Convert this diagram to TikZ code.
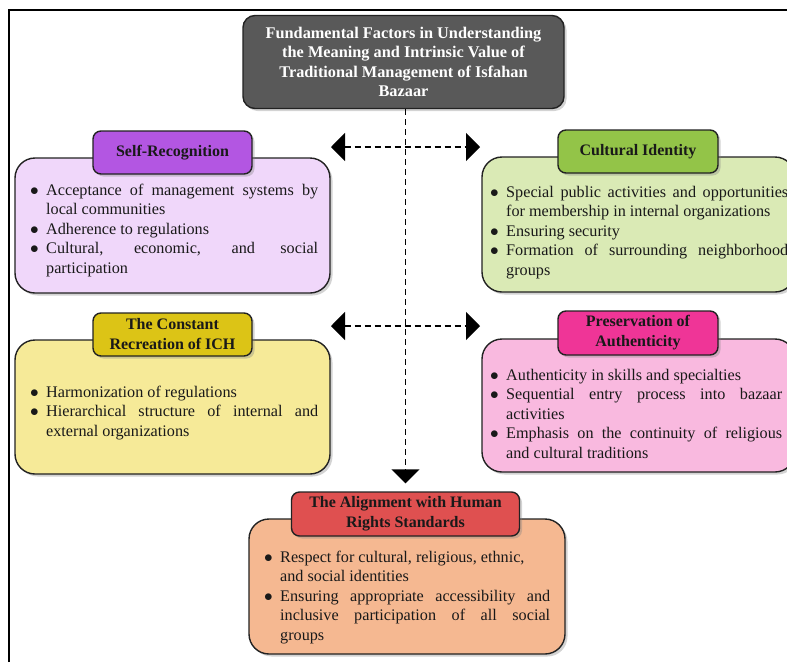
\documentclass[tikz,border=0pt]{standalone}
\usepackage{fontspec}
\setmainfont{Liberation Serif}
\usetikzlibrary{arrows.meta,shadows}
\definecolor{titlefill}{HTML}{595959}
\definecolor{srHc}{HTML}{B356E2}
\definecolor{srBc}{HTML}{F0D7FA}
\definecolor{ciHc}{HTML}{93C448}
\definecolor{ciBc}{HTML}{DAEAB5}
\definecolor{crHc}{HTML}{DCC416}
\definecolor{crBc}{HTML}{F6EA98}
\definecolor{paHc}{HTML}{EF3597}
\definecolor{paBc}{HTML}{F9B9DF}
\definecolor{hrHc}{HTML}{DF5050}
\definecolor{hrBc}{HTML}{F5B891}
\definecolor{edge}{HTML}{222222}
\newcommand{\bitem}[1]{{\hangindent=16pt\hangafter=1\noindent\makebox[16pt][l]{$\bullet$}#1\par}}
\newcommand{\btext}{\fontsize{16.2}{19.6}\selectfont\hyphenpenalty=10000\exhyphenpenalty=10000}
\tikzset{
  shd/.style={drop shadow={shadow xshift=2.5pt,shadow yshift=-2.5pt,opacity=0.35}},
  bodybox/.style={draw=edge,line width=1.4pt,rounded corners=20pt,shd},
  headbox/.style={draw=edge,line width=1.4pt,rounded corners=8pt,shd,
     font=\fontsize{16}{20}\selectfont\bfseries,align=center,text=black!90},
  listtext/.style={anchor=base west,inner sep=0pt,text=black!90},
  dashline/.style={dash pattern=on 6pt off 4pt,line width=1.4pt},
  arr/.style={-{Triangle[length=14pt,width=28pt]}}
}
\begin{document}
\begin{tikzpicture}[x=1pt,y=-1pt]
\useasboundingbox (0,0) rectangle (787,662);
% frame
\draw[line width=1.2pt] (9,662) -- (9,10) -- (790,10);

% title
\node[draw=edge,line width=1.4pt,rounded corners=12pt,fill=titlefill,shd,
  minimum width=321pt,minimum height=93pt,text=white,align=center,
  font=\fontsize{16.3}{19.3}\selectfont\bfseries] (title) at (403.5,62)
  {Fundamental Factors in Understanding\\the Meaning and Intrinsic Value of\\Traditional Management of Isfahan\\Bazaar};

% bodies
\node[bodybox,fill=srBc,minimum width=315pt,minimum height=135pt] (srB) at (172.5,225.5) {};
\node[bodybox,fill=ciBc,minimum width=313pt,minimum height=135pt] (ciB) at (638.5,224.5) {};
\node[bodybox,fill=crBc,minimum width=315pt,minimum height=134pt] (crB) at (172.5,407) {};
\node[bodybox,fill=paBc,minimum width=313pt,minimum height=133pt] (paB) at (638.5,405.5) {};
\node[bodybox,fill=hrBc,minimum width=316pt,minimum height=135pt] (hrB) at (407,586.5) {};

% headers
\node[headbox,fill=srHc,minimum width=159pt,minimum height=43pt] (srH) at (172.5,152.5) {Self-Recognition};
\node[headbox,fill=ciHc,minimum width=160pt,minimum height=43pt] (ciH) at (638,151.5) {Cultural Identity};
\node[headbox,fill=crHc,minimum width=159pt,minimum height=43pt] (crH) at (172.5,334.5) {The Constant\\Recreation of ICH};
\node[headbox,fill=paHc,minimum width=160pt,minimum height=44pt] (paH) at (638,333) {Preservation of\\Authenticity};
\node[headbox,fill=hrHc,minimum width=228pt,minimum height=44pt] (hrH) at (405.5,514) {The Alignment with Human\\Rights Standards};

% list texts
\node[listtext] (srT) at (30,195) {\parbox[t]{288pt}{\btext
\bitem{Acceptance of management systems by local communities}
\bitem{Adherence to regulations}
\bitem{Cultural, economic, and social participation}}};
\node[listtext] (ciT) at (490,197) {\parbox[t]{298pt}{\btext
\bitem{Special public activities and opportunities for membership in internal organizations}
\bitem{Ensuring security}
\bitem{Formation of surrounding neighborhood groups}}};
\node[listtext] (crT) at (30,397) {\parbox[t]{288pt}{\btext
\bitem{Harmonization of regulations}
\bitem{Hierarchical structure of internal and external organizations}}};
\node[listtext] (paT) at (490,380) {\parbox[t]{292pt}{\btext
\bitem{Authenticity in skills and specialties}
\bitem{Sequential entry process into bazaar activities}
\bitem{Emphasis on the continuity of religious\linebreak and cultural traditions}}};
\node[listtext] (hrT) at (264,562) {\parbox[t]{286pt}{\btext
\bitem{Respect for cultural, religious, ethnic,\newline and social identities}
\bitem{Ensuring appropriate accessibility and\linebreak inclusive participation of all social\linebreak groups}}};

% connectors
\coordinate (l1) at (331,147);
\coordinate (r1) at (480,147);
\coordinate (l2) at (331,326);
\coordinate (r2) at (480,326);
\draw[dashline,arr,shorten >=8pt] (title.south -| hrH.north) -- (hrH.north);
\draw[dashline,{Triangle[length=14pt,width=28pt]}-{Triangle[length=14pt,width=28pt]}] (l1) -- (r1);
\draw[dashline,{Triangle[length=14pt,width=28pt]}-{Triangle[length=14pt,width=28pt]}] (l2) -- (r2);
\end{tikzpicture}
\end{document}
